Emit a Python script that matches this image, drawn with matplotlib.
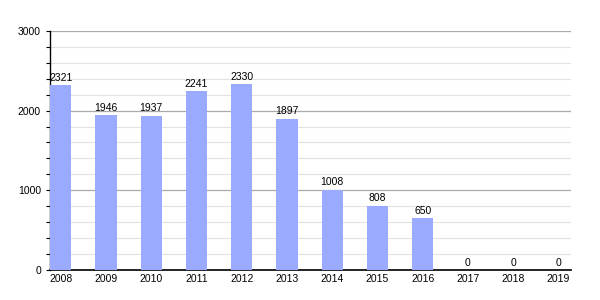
import numpy as np
import matplotlib.pyplot as plt

plt.rcParams['font.family'] = ['Liberation Sans', 'DejaVu Sans']

# data
years = ['2008', '2009', '2010', '2011', '2012', '2013',
         '2014', '2015', '2016', '2017', '2018', '2019']
values = [2321, 1946, 1937, 2241, 2330, 1897, 1008, 808, 650, 0, 0, 0]

fig = plt.figure(figsize=(6, 3), dpi=100)
ax = fig.add_axes([0.0833, 0.1, 0.8684, 0.797])

x = np.arange(len(years))
ax.bar(x, values, width=0.47, color='#99aaff', zorder=3)

for xi, v in zip(x, values):
    ax.text(xi, v + 30, str(v), ha='center', va='bottom', fontsize=7.5, zorder=4)

ax.set_xlim(-0.24, 11.28)
ax.set_ylim(0, 3000)
ax.set_xticks(x)
ax.set_xticklabels(years, fontsize=7.5)
ax.set_yticks([0, 1000, 2000, 3000])
ax.set_yticks(np.arange(0, 3001, 200), minor=True)
ax.tick_params(axis='y', labelsize=7.5, length=3, width=0.8, direction='out')
ax.tick_params(axis='y', which='minor', length=3, width=0.8)
ax.tick_params(axis='x', length=0, pad=3)

ax.grid(axis='y', which='major', color='#aaaaaa', linewidth=0.9, zorder=0)
ax.grid(axis='y', which='minor', color='#e2e2e2', linewidth=0.8, zorder=0)

for s in ['top', 'right']:
    ax.spines[s].set_visible(False)
ax.spines['left'].set_linewidth(1.0)
ax.spines['bottom'].set_linewidth(1.2)

fig.savefig('out.png', dpi=100)
